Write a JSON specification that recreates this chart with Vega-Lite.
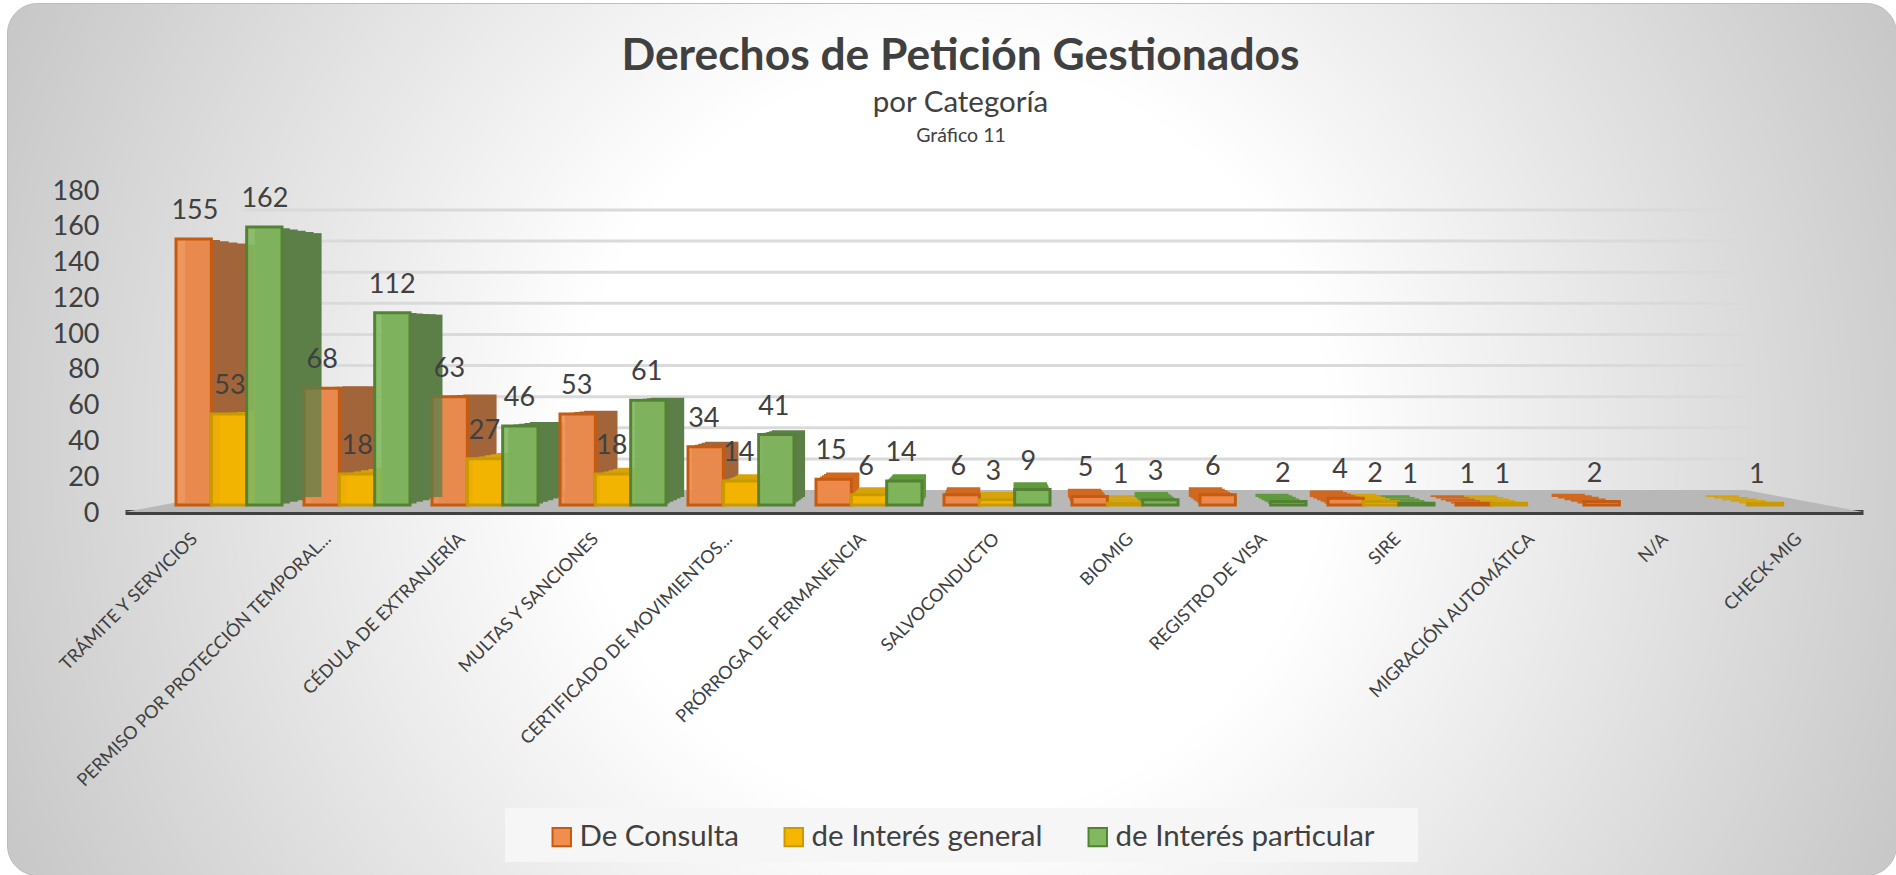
{"$schema":"https://vega.github.io/schema/vega-lite/v6.json","width":1889,"height":872,"autosize":"none","padding":{"left":7,"top":3,"right":0,"bottom":0},"background":"#ffffff","config":{"font":"Lato","view":{"stroke":null}},
"view":{"cornerRadius":30,"stroke":"#bdbdbd","strokeWidth":1,"fill":{"gradient":"radial","x1":0.5,"y1":0.5,"x2":0.5,"y2":0.5,"r1":0,"r2":0.71,"stops":[{"offset":0.28,"color":"#ffffff"},{"offset":1,"color":"#adadad"}]}},
"title":{"text":"Derechos de Petición Gestionados","subtitle":"por Categoría","anchor":"middle","frame":"group","dx":9,"offset":-115,"font":"Lato","fontSize":44.4,"fontWeight":"bold","color":"#404040","subtitleFont":"Lato","subtitleFontSize":29.5,"subtitleColor":"#404040","subtitlePadding":9},
"datasets":{"rows":[
{"categoria":"TRÁMITE Y SERVICIOS","serie":"De Consulta","valor":155},{"categoria":"TRÁMITE Y SERVICIOS","serie":"de Interés general","valor":53},{"categoria":"TRÁMITE Y SERVICIOS","serie":"de Interés particular","valor":162},
{"categoria":"PERMISO POR PROTECCIÓN TEMPORAL...","serie":"De Consulta","valor":68},{"categoria":"PERMISO POR PROTECCIÓN TEMPORAL...","serie":"de Interés general","valor":18},{"categoria":"PERMISO POR PROTECCIÓN TEMPORAL...","serie":"de Interés particular","valor":112},
{"categoria":"CÉDULA DE EXTRANJERÍA","serie":"De Consulta","valor":63},{"categoria":"CÉDULA DE EXTRANJERÍA","serie":"de Interés general","valor":27},{"categoria":"CÉDULA DE EXTRANJERÍA","serie":"de Interés particular","valor":46},
{"categoria":"MULTAS Y SANCIONES","serie":"De Consulta","valor":53},{"categoria":"MULTAS Y SANCIONES","serie":"de Interés general","valor":18},{"categoria":"MULTAS Y SANCIONES","serie":"de Interés particular","valor":61},
{"categoria":"CERTIFICADO DE MOVIMIENTOS...","serie":"De Consulta","valor":34},{"categoria":"CERTIFICADO DE MOVIMIENTOS...","serie":"de Interés general","valor":14},{"categoria":"CERTIFICADO DE MOVIMIENTOS...","serie":"de Interés particular","valor":41},
{"categoria":"PRÓRROGA DE PERMANENCIA","serie":"De Consulta","valor":15},{"categoria":"PRÓRROGA DE PERMANENCIA","serie":"de Interés general","valor":6},{"categoria":"PRÓRROGA DE PERMANENCIA","serie":"de Interés particular","valor":14},
{"categoria":"SALVOCONDUCTO","serie":"De Consulta","valor":6},{"categoria":"SALVOCONDUCTO","serie":"de Interés general","valor":3},{"categoria":"SALVOCONDUCTO","serie":"de Interés particular","valor":9},
{"categoria":"BIOMIG","serie":"De Consulta","valor":5},{"categoria":"BIOMIG","serie":"de Interés general","valor":1},{"categoria":"BIOMIG","serie":"de Interés particular","valor":3},
{"categoria":"REGISTRO DE VISA","serie":"De Consulta","valor":6},{"categoria":"REGISTRO DE VISA","serie":"de Interés particular","valor":2},
{"categoria":"SIRE","serie":"De Consulta","valor":4},{"categoria":"SIRE","serie":"de Interés general","valor":2},{"categoria":"SIRE","serie":"de Interés particular","valor":1},
{"categoria":"MIGRACIÓN AUTOMÁTICA","serie":"De Consulta","valor":1},{"categoria":"MIGRACIÓN AUTOMÁTICA","serie":"de Interés general","valor":1},
{"categoria":"N/A","serie":"De Consulta","valor":2},
{"categoria":"CHECK-MIG","serie":"de Interés general","valor":1}
]},
"resolve":{"scale":{"x":"independent","y":"independent","xOffset":"independent","fill":"independent","stroke":"independent"},"axis":{"x":"independent","y":"independent"},"legend":{"fill":"independent","stroke":"independent"}},
"layer":[
{"data":{"values":[{"s":0,"d":0},{"s":0.0679,"d":1},{"s":0.9327,"d":1},{"s":1,"d":0}]},"mark":{"type":"area","color":"#b8b8b8","interpolate":"linear"},"encoding":{"x":{"field":"s","type":"quantitative","axis":null,"scale":{"domain":[0,1],"range":[118,1856]}},"y":{"field":"d","type":"quantitative","axis":null,"scale":{"domain":[0,1],"range":[509,487]}},"y2":{"datum":0}}},
{"data":{"values":[{"t":20},{"t":40},{"t":60},{"t":80},{"t":100},{"t":120},{"t":140},{"t":160},{"t":180}]},"mark":{"type":"rule","color":"#dadada","strokeWidth":3},"encoding":{"x":{"datum":0,"type":"quantitative","axis":null,"scale":{"domain":[0,1],"range":[236,1739]}},"x2":{"datum":1},"y":{"field":"t","type":"quantitative","axis":null,"scale":{"domain":[0,180],"range":[487,207]}}}},
{"data":{"values":[{"caja":"leyenda"}]},"mark":{"type":"rect","color":"#f6f6f6"},"encoding":{"x":{"datum":0,"type":"quantitative","axis":null,"scale":{"domain":[0,1],"range":[498,1411]}},"x2":{"datum":1},"y":{"datum":0,"type":"quantitative","axis":null,"scale":{"domain":[0,1],"range":[805,859]}},"y2":{"datum":1}}},
{"data":{"name":"rows"},"mark":{"type":"point","opacity":0},"encoding":{"x":{"field":"categoria","type":"nominal","title":null,"scale":{"type":"band","domain":["TRÁMITE Y SERVICIOS","PERMISO POR PROTECCIÓN TEMPORAL...","CÉDULA DE EXTRANJERÍA","MULTAS Y SANCIONES","CERTIFICADO DE MOVIMIENTOS...","PRÓRROGA DE PERMANENCIA","SALVOCONDUCTO","BIOMIG","REGISTRO DE VISA","SIRE","MIGRACIÓN AUTOMÁTICA","N/A","CHECK-MIG"],"range":[118,1856]},"axis":{"orient":"bottom","offset":-363,"labelAngle":-45,"labelAlign":"right","labelBaseline":"middle","labelPadding":24,"labelOffset":3,"ticks":false,"domainColor":"#404040","domainWidth":5,"labelFontSize":18,"labelColor":"#404040","labelFont":"Lato","labelLimit":400,"labelOverlap":false,"grid":false}},"y":{"field":"valor","type":"quantitative","title":null,"scale":{"domain":[0,180],"range":[510,188]},"axis":{"orient":"left","offset":-92,"values":[0,20,40,60,80,100,120,140,160,180],"domain":false,"ticks":false,"grid":false,"labelPadding":0,"labelFontSize":27,"labelColor":"#404040","labelFont":"Lato"}}}},
{"data":{"name":"rows"},"mark":{"type":"bar"},"encoding":{"x":{"field":"categoria","type":"nominal","axis":null,"scale":{"type":"band","domain":["TRÁMITE Y SERVICIOS","PERMISO POR PROTECCIÓN TEMPORAL...","CÉDULA DE EXTRANJERÍA","MULTAS Y SANCIONES","CERTIFICADO DE MOVIMIENTOS...","PRÓRROGA DE PERMANENCIA","SALVOCONDUCTO","BIOMIG","REGISTRO DE VISA","SIRE","MIGRACIÓN AUTOMÁTICA","N/A","CHECK-MIG"],"range":[204,1776],"paddingInner":0.172,"paddingOuter":0.086}},"xOffset":{"field":"serie","type":"nominal","scale":{"domain":["De Consulta","de Interés general","de Interés particular"],"range":[0,100],"paddingInner":0,"paddingOuter":0}},"y":{"field":"valor","type":"quantitative","axis":null,"scale":{"domain":[0,180],"range":[494,201]}},"fill":{"condition":[{"test":"datum.valor<=15 && datum.serie=='De Consulta'","value":"#d0691f"},{"test":"datum.valor<=15 && datum.serie=='de Interés particular'","value":"#5f9a3c"}],"field":"serie","type":"nominal","legend":null,"scale":{"domain":["De Consulta","de Interés general","de Interés particular"],"range":["#a2653a","#d6a40a","#5c7f48"]}}}},
{"data":{"name":"rows"},"mark":{"type":"bar"},"encoding":{"x":{"field":"categoria","type":"nominal","axis":null,"scale":{"type":"band","domain":["TRÁMITE Y SERVICIOS","PERMISO POR PROTECCIÓN TEMPORAL...","CÉDULA DE EXTRANJERÍA","MULTAS Y SANCIONES","CERTIFICADO DE MOVIMIENTOS...","PRÓRROGA DE PERMANENCIA","SALVOCONDUCTO","BIOMIG","REGISTRO DE VISA","SIRE","MIGRACIÓN AUTOMÁTICA","N/A","CHECK-MIG"],"range":[194.8,1785.2],"paddingInner":0.172,"paddingOuter":0.086}},"xOffset":{"field":"serie","type":"nominal","scale":{"domain":["De Consulta","de Interés general","de Interés particular"],"range":[0,101.2],"paddingInner":0,"paddingOuter":0}},"y":{"field":"valor","type":"quantitative","axis":null,"scale":{"domain":[0,180],"range":[495.6,199.4]}},"fill":{"condition":[{"test":"datum.valor<=15 && datum.serie=='De Consulta'","value":"#d0691f"},{"test":"datum.valor<=15 && datum.serie=='de Interés particular'","value":"#5f9a3c"}],"field":"serie","type":"nominal","legend":null,"scale":{"domain":["De Consulta","de Interés general","de Interés particular"],"range":["#a2653a","#d6a40a","#5c7f48"]}}}},
{"data":{"name":"rows"},"mark":{"type":"bar"},"encoding":{"x":{"field":"categoria","type":"nominal","axis":null,"scale":{"type":"band","domain":["TRÁMITE Y SERVICIOS","PERMISO POR PROTECCIÓN TEMPORAL...","CÉDULA DE EXTRANJERÍA","MULTAS Y SANCIONES","CERTIFICADO DE MOVIMIENTOS...","PRÓRROGA DE PERMANENCIA","SALVOCONDUCTO","BIOMIG","REGISTRO DE VISA","SIRE","MIGRACIÓN AUTOMÁTICA","N/A","CHECK-MIG"],"range":[185.6,1794.4],"paddingInner":0.172,"paddingOuter":0.086}},"xOffset":{"field":"serie","type":"nominal","scale":{"domain":["De Consulta","de Interés general","de Interés particular"],"range":[0,102.4],"paddingInner":0,"paddingOuter":0}},"y":{"field":"valor","type":"quantitative","axis":null,"scale":{"domain":[0,180],"range":[497.2,197.8]}},"fill":{"condition":[{"test":"datum.valor<=15 && datum.serie=='De Consulta'","value":"#d0691f"},{"test":"datum.valor<=15 && datum.serie=='de Interés particular'","value":"#5f9a3c"}],"field":"serie","type":"nominal","legend":null,"scale":{"domain":["De Consulta","de Interés general","de Interés particular"],"range":["#a2653a","#d6a40a","#5c7f48"]}}}},
{"data":{"name":"rows"},"mark":{"type":"bar"},"encoding":{"x":{"field":"categoria","type":"nominal","axis":null,"scale":{"type":"band","domain":["TRÁMITE Y SERVICIOS","PERMISO POR PROTECCIÓN TEMPORAL...","CÉDULA DE EXTRANJERÍA","MULTAS Y SANCIONES","CERTIFICADO DE MOVIMIENTOS...","PRÓRROGA DE PERMANENCIA","SALVOCONDUCTO","BIOMIG","REGISTRO DE VISA","SIRE","MIGRACIÓN AUTOMÁTICA","N/A","CHECK-MIG"],"range":[176.4,1803.6],"paddingInner":0.172,"paddingOuter":0.086}},"xOffset":{"field":"serie","type":"nominal","scale":{"domain":["De Consulta","de Interés general","de Interés particular"],"range":[0,103.6],"paddingInner":0,"paddingOuter":0}},"y":{"field":"valor","type":"quantitative","axis":null,"scale":{"domain":[0,180],"range":[498.8,196.2]}},"fill":{"condition":[{"test":"datum.valor<=15 && datum.serie=='De Consulta'","value":"#d0691f"},{"test":"datum.valor<=15 && datum.serie=='de Interés particular'","value":"#5f9a3c"}],"field":"serie","type":"nominal","legend":null,"scale":{"domain":["De Consulta","de Interés general","de Interés particular"],"range":["#a2653a","#d6a40a","#5c7f48"]}}}},
{"data":{"name":"rows"},"mark":{"type":"bar"},"encoding":{"x":{"field":"categoria","type":"nominal","axis":null,"scale":{"type":"band","domain":["TRÁMITE Y SERVICIOS","PERMISO POR PROTECCIÓN TEMPORAL...","CÉDULA DE EXTRANJERÍA","MULTAS Y SANCIONES","CERTIFICADO DE MOVIMIENTOS...","PRÓRROGA DE PERMANENCIA","SALVOCONDUCTO","BIOMIG","REGISTRO DE VISA","SIRE","MIGRACIÓN AUTOMÁTICA","N/A","CHECK-MIG"],"range":[167.2,1812.8],"paddingInner":0.172,"paddingOuter":0.086}},"xOffset":{"field":"serie","type":"nominal","scale":{"domain":["De Consulta","de Interés general","de Interés particular"],"range":[0,104.8],"paddingInner":0,"paddingOuter":0}},"y":{"field":"valor","type":"quantitative","axis":null,"scale":{"domain":[0,180],"range":[500.4,194.6]}},"fill":{"condition":[{"test":"datum.valor<=15 && datum.serie=='De Consulta'","value":"#d0691f"},{"test":"datum.valor<=15 && datum.serie=='de Interés particular'","value":"#5f9a3c"}],"field":"serie","type":"nominal","legend":null,"scale":{"domain":["De Consulta","de Interés general","de Interés particular"],"range":["#a2653a","#d6a40a","#5c7f48"]}}}},
{"data":{"name":"rows"},"mark":{"type":"bar","strokeWidth":3,"fillOpacity":0.9},"encoding":{"x":{"field":"categoria","type":"nominal","axis":null,"scale":{"type":"band","domain":["TRÁMITE Y SERVICIOS","PERMISO POR PROTECCIÓN TEMPORAL...","CÉDULA DE EXTRANJERÍA","MULTAS Y SANCIONES","CERTIFICADO DE MOVIMIENTOS...","PRÓRROGA DE PERMANENCIA","SALVOCONDUCTO","BIOMIG","REGISTRO DE VISA","SIRE","MIGRACIÓN AUTOMÁTICA","N/A","CHECK-MIG"],"range":[158,1822],"paddingInner":0.172,"paddingOuter":0.086}},"xOffset":{"field":"serie","type":"nominal","scale":{"domain":["De Consulta","de Interés general","de Interés particular"],"range":[0,106],"paddingInner":0,"paddingOuter":0}},"y":{"field":"valor","type":"quantitative","axis":null,"scale":{"domain":[0,180],"range":[502,193]}},"fill":{"field":"serie","type":"nominal","title":null,"scale":{"domain":["De Consulta","de Interés general","de Interés particular"],"range":["#f08e50","#f6b600","#82b85e"]},"legend":{"orient":"none","legendX":540,"legendY":819,"direction":"horizontal","columns":3,"title":null,"padding":0,"symbolType":"square","symbolSize":340,"symbolStrokeWidth":2,"labelFontSize":29.5,"labelColor":"#404040","labelFont":"Lato","labelOffset":3,"columnPadding":40,"labelLimit":400}},"stroke":{"field":"serie","type":"nominal","title":null,"scale":{"domain":["De Consulta","de Interés general","de Interés particular"],"range":["#c55a11","#c89a00","#548235"]}}}},
{"data":{"name":"rows"},"transform":[{"filter":"datum.serie=='de Interés particular' && (datum.categoria=='TRÁMITE Y SERVICIOS' || datum.categoria=='PERMISO POR PROTECCIÓN TEMPORAL...')"}],"mark":{"type":"bar","color":"#5c7f48","opacity":0.75},"encoding":{"x":{"field":"categoria","type":"nominal","axis":null,"scale":{"type":"band","domain":["TRÁMITE Y SERVICIOS","PERMISO POR PROTECCIÓN TEMPORAL...","CÉDULA DE EXTRANJERÍA","MULTAS Y SANCIONES","CERTIFICADO DE MOVIMIENTOS...","PRÓRROGA DE PERMANENCIA","SALVOCONDUCTO","BIOMIG","REGISTRO DE VISA","SIRE","MIGRACIÓN AUTOMÁTICA","N/A","CHECK-MIG"],"range":[204,1776],"paddingInner":0.172,"paddingOuter":0.086}},"xOffset":{"field":"serie","type":"nominal","scale":{"domain":["De Consulta","de Interés general","de Interés particular"],"range":[0,100],"paddingInner":0,"paddingOuter":0}},"y":{"field":"valor","type":"quantitative","axis":null,"scale":{"domain":[0,180],"range":[494,201]}}}},
{"data":{"name":"rows"},"mark":{"type":"text","fontSize":27,"color":"#404040","font":"Lato","dy":-28},"encoding":{"x":{"field":"categoria","type":"nominal","axis":null,"scale":{"type":"band","domain":["TRÁMITE Y SERVICIOS","PERMISO POR PROTECCIÓN TEMPORAL...","CÉDULA DE EXTRANJERÍA","MULTAS Y SANCIONES","CERTIFICADO DE MOVIMIENTOS...","PRÓRROGA DE PERMANENCIA","SALVOCONDUCTO","BIOMIG","REGISTRO DE VISA","SIRE","MIGRACIÓN AUTOMÁTICA","N/A","CHECK-MIG"],"range":[158,1812],"paddingInner":0.172,"paddingOuter":0.086}},"xOffset":{"field":"serie","type":"nominal","scale":{"type":"point","domain":["De Consulta","de Interés general","de Interés particular"],"range":[19,89],"padding":0}},"y":{"field":"valor","type":"quantitative","axis":null,"scale":{"domain":[0,180],"range":[502,193]}},"text":{"field":"valor","type":"quantitative"}}},
{"data":{"values":[{"nota":"Gráfico 11"}]},"mark":{"type":"text","fontSize":19.5,"color":"#404040","font":"Lato"},"encoding":{"x":{"datum":0.5,"type":"quantitative","axis":null,"scale":{"domain":[0,1],"range":[0,1908]}},"y":{"datum":0,"type":"quantitative","axis":null,"scale":{"domain":[0,1],"range":[133,0]}},"text":{"field":"nota","type":"nominal"}}}
]}
